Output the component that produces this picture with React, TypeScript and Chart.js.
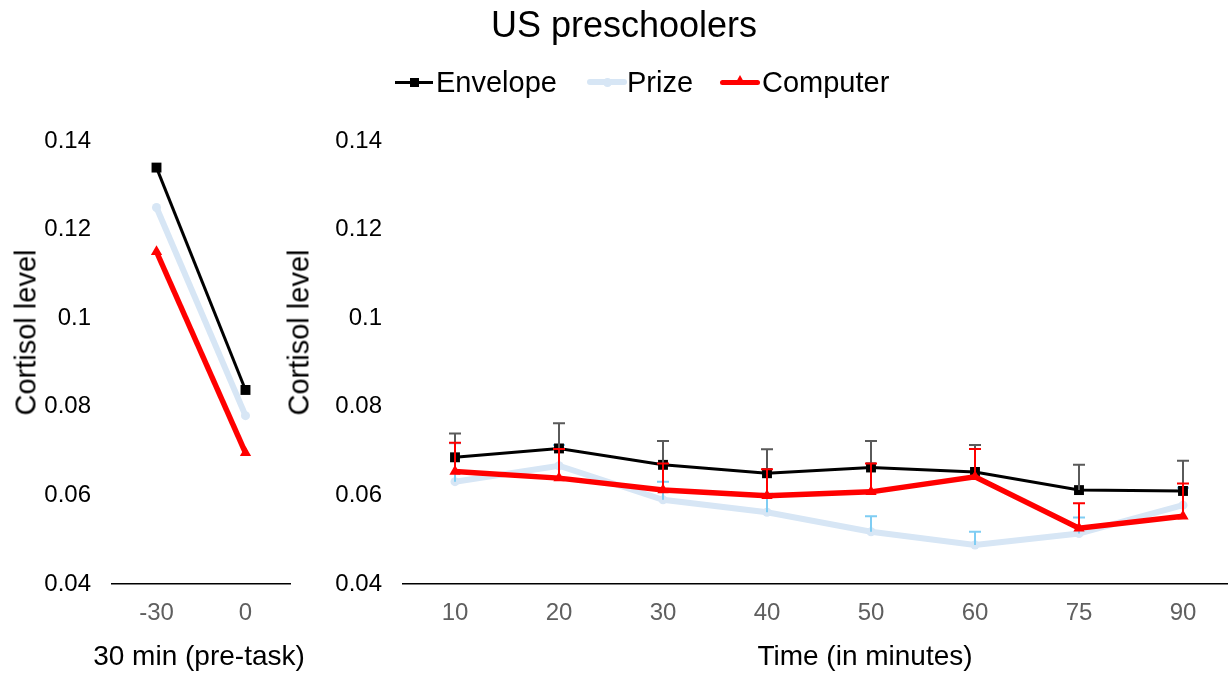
import React, { useEffect, useRef } from "react";
import { Chart, registerables } from "chart.js";
Chart.register(...registerables);

const FONT = '"Liberation Sans", Arial, Helvetica, sans-serif';

// ---- data ----
const preCategories = ["-30", "0"];
const timeCategories = ["10", "20", "30", "40", "50", "60", "75", "90"];
const yTickValues = [0.04, 0.06, 0.08, 0.1, 0.12, 0.14];

const envelopePre = [0.134, 0.0838];
const prizePre = [0.125, 0.078];
const computerPre = [0.115, 0.0696];

const envelopeTime = [0.0686, 0.0706, 0.0669, 0.065, 0.0663, 0.0653, 0.0612, 0.061];
const envelopeErr = [0.0054, 0.0057, 0.0054, 0.0054, 0.006, 0.0061, 0.0057, 0.0068];
const prizeTime = [0.0631, 0.0667, 0.059, 0.0562, 0.0518, 0.0488, 0.0514, 0.0578];
const prizeErr = [0.0087, 0.0047, 0.0041, 0.0042, 0.0035, 0.003, 0.0036, 0.0039];
const computerTime = [0.0654, 0.0639, 0.0612, 0.0599, 0.0608, 0.0642, 0.0526, 0.0553];
const computerErr = [0.0065, 0.0066, 0.006, 0.006, 0.0064, 0.0063, 0.0056, 0.0074];

const seriesNames = ["Envelope", "Prize", "Computer"];
const chartTitle = "US preschoolers";
const yAxisTitle = "Cortisol level";
const preAxisTitle = "30 min (pre-task)";
const timeAxisTitle = "Time (in minutes)";

const PRIZE_COLOR = "#d7e6f5";
const PRIZE_ERR_COLOR = "#7fcdf3";
const ENV_ERR_COLOR = "#5a5a5a";
const RED = "#ff0000";

const errorBarPlugin = {
  id: "errorBars",
  afterDatasetDraw(chart: any, args: any) {
    const ds = chart.data.datasets[args.index];
    if (!ds.errors) return;
    const yScale = chart.scales.y;
    const ctx = chart.ctx;
    ctx.save();
    ctx.strokeStyle = ds.errorColor;
    ctx.lineWidth = 2;
    args.meta.data.forEach((pt: any, i: number) => {
      const v = ds.data[i];
      const e = ds.errors[i];
      const x = pt.x;
      const y0 = yScale.getPixelForValue(v);
      const y1 = yScale.getPixelForValue(v + e);
      ctx.beginPath();
      ctx.moveTo(x, y0);
      ctx.lineTo(x, y1);
      ctx.moveTo(x - 6, y1);
      ctx.lineTo(x + 6, y1);
      ctx.stroke();
    });
    ctx.restore();
  },
};

function makeDatasets(env: number[], prize: number[], comp: number[], errs: boolean) {
  return [
    {
      label: seriesNames[0],
      data: env,
      borderColor: "#000",
      backgroundColor: "#000",
      borderWidth: 3,
      pointStyle: "rect",
      pointRadius: 7,
      pointBorderWidth: 0,
      pointBackgroundColor: "#000",
      order: 1,
      ...(errs ? { errors: envelopeErr, errorColor: ENV_ERR_COLOR } : {}),
    },
    {
      label: seriesNames[1],
      data: prize,
      borderColor: PRIZE_COLOR,
      backgroundColor: PRIZE_COLOR,
      borderWidth: 6,
      pointStyle: "circle",
      pointRadius: 4.5,
      pointBorderWidth: 0,
      pointBackgroundColor: PRIZE_COLOR,
      order: 2,
      ...(errs ? { errors: prizeErr, errorColor: PRIZE_ERR_COLOR } : {}),
    },
    {
      label: seriesNames[2],
      data: comp,
      borderColor: RED,
      backgroundColor: RED,
      borderWidth: 5.5,
      pointStyle: "triangle",
      pointRadius: 6.5,
      pointBorderWidth: 0,
      pointBackgroundColor: RED,
      order: 0,
      ...(errs ? { errors: computerErr, errorColor: RED } : {}),
    },
  ];
}

function makeConfig(labels: string[], datasets: any[], yWidth: number, rightPad: number): any {
  return {
    type: "line",
    data: { labels, datasets },
    plugins: [errorBarPlugin],
    options: {
      responsive: false,
      animation: false,
      layout: { padding: { top: 141, right: rightPad, left: 0, bottom: 0 } },
      elements: { line: { tension: 0 } },
      plugins: { legend: { display: false }, tooltip: { enabled: false }, title: { display: false } },
      scales: {
        x: {
          type: "category",
          offset: true,
          grid: { display: false, drawTicks: false },
          border: { display: true, color: "#000", width: 1.5 },
          ticks: { color: "#5f5f5f", font: { family: FONT, size: 24 }, padding: 15, maxRotation: 0 },
          afterFit: (s: any) => {
            s.height = 89;
          },
        },
        y: {
          min: 0.04,
          max: 0.14,
          grid: { display: false, drawTicks: false },
          border: { display: false },
          afterBuildTicks: (s: any) => {
            s.ticks = yTickValues.map((v) => ({ value: v }));
          },
          ticks: {
            color: "#000",
            font: { family: FONT, size: 24 },
            padding: 21,
            callback: (v: any) => String(v),
          },
          afterFit: (s: any) => {
            s.width = yWidth;
          },
        },
      },
    },
  };
}

function LegendItem(props: { left: number; textLeft: number; width: number; kind: number; text: string }) {
  const { left, textLeft, width, kind, text } = props;
  const cy = 82;
  let line: React.ReactNode;
  let marker: React.ReactNode;
  const mid = left + width / 2;
  if (kind === 0) {
    line = <div style={{ position: "absolute", left, top: cy - 1.5, width, height: 3, background: "#000" }} />;
    marker = <div style={{ position: "absolute", left: mid - 4.5, top: cy - 4.5, width: 9, height: 9, background: "#000" }} />;
  } else if (kind === 1) {
    line = <div style={{ position: "absolute", left, top: cy - 3, width, height: 6, background: PRIZE_COLOR, borderRadius: 3 }} />;
    marker = <div style={{ position: "absolute", left: mid - 4.5, top: cy - 4.5, width: 9, height: 9, background: PRIZE_COLOR, borderRadius: 5 }} />;
  } else {
    line = <div style={{ position: "absolute", left, top: cy - 2.5, width, height: 5, background: RED, borderRadius: 2.5 }} />;
    marker = (
      <div
        style={{
          position: "absolute",
          left: mid - 5,
          top: cy - 7,
          width: 0,
          height: 0,
          borderLeft: "5px solid transparent",
          borderRight: "5px solid transparent",
          borderBottom: `9px solid ${RED}`,
        }}
      />
    );
  }
  return (
    <>
      {line}
      {marker}
      <div style={{ position: "absolute", left: textLeft, top: cy - 14.5, fontSize: 29, lineHeight: "29px", color: "#000", whiteSpace: "nowrap" }}>
        {text}
      </div>
    </>
  );
}

function YTitle(props: { cx: number; cy: number }) {
  const { cx, cy } = props;
  return (
    <div
      style={{
        position: "absolute",
        left: cx - 150,
        top: cy - 14.5,
        width: 300,
        height: 29,
        lineHeight: "29px",
        fontSize: 29,
        textAlign: "center",
        color: "#000",
        transform: "rotate(-90deg)",
        whiteSpace: "nowrap",
      }}
    >
      {yAxisTitle}
    </div>
  );
}

function XTitle(props: { cx: number; text: string }) {
  return (
    <div
      style={{
        position: "absolute",
        left: props.cx - 200,
        width: 400,
        top: 642,
        textAlign: "center",
        fontSize: 28,
        lineHeight: "28px",
        color: "#000",
        whiteSpace: "nowrap",
      }}
    >
      {props.text}
    </div>
  );
}

export default function App() {
  const leftRef = useRef<HTMLCanvasElement>(null);
  const rightRef = useRef<HTMLCanvasElement>(null);

  useEffect(() => {
    const c1 = new Chart(
      leftRef.current as HTMLCanvasElement,
      makeConfig(preCategories, makeDatasets(envelopePre, prizePre, computerPre, false), 112, 10)
    );
    const c2 = new Chart(
      rightRef.current as HTMLCanvasElement,
      makeConfig(timeCategories, makeDatasets(envelopeTime, prizeTime, computerTime, true), 133, 15)
    );
    return () => {
      c1.destroy();
      c2.destroy();
    };
  }, []);

  return (
    <div
      style={{
        position: "fixed",
        left: 0,
        top: 0,
        width: 1228,
        height: 673,
        overflow: "hidden",
        background: "#fff",
        fontFamily: FONT,
      }}
    >
      <canvas ref={leftRef} width={300} height={673} style={{ position: "absolute", left: 0, top: 0, width: 300, height: 673 }} />
      <canvas ref={rightRef} width={980} height={673} style={{ position: "absolute", left: 270, top: 0, width: 980, height: 673 }} />
      <div style={{ position: "absolute", left: 374, width: 500, top: 7, textAlign: "center", fontSize: 36, lineHeight: "36px", color: "#000" }}>
        {chartTitle}
      </div>
      <LegendItem left={395} width={38} textLeft={436} kind={0} text={seriesNames[0]} />
      <LegendItem left={587} width={40} textLeft={627} kind={1} text={seriesNames[1]} />
      <LegendItem left={720} width={40} textLeft={762} kind={2} text={seriesNames[2]} />
      <YTitle cx={26} cy={332} />
      <YTitle cx={299} cy={332} />
      <XTitle cx={199} text={preAxisTitle} />
      <XTitle cx={865} text={timeAxisTitle} />
    </div>
  );
}
